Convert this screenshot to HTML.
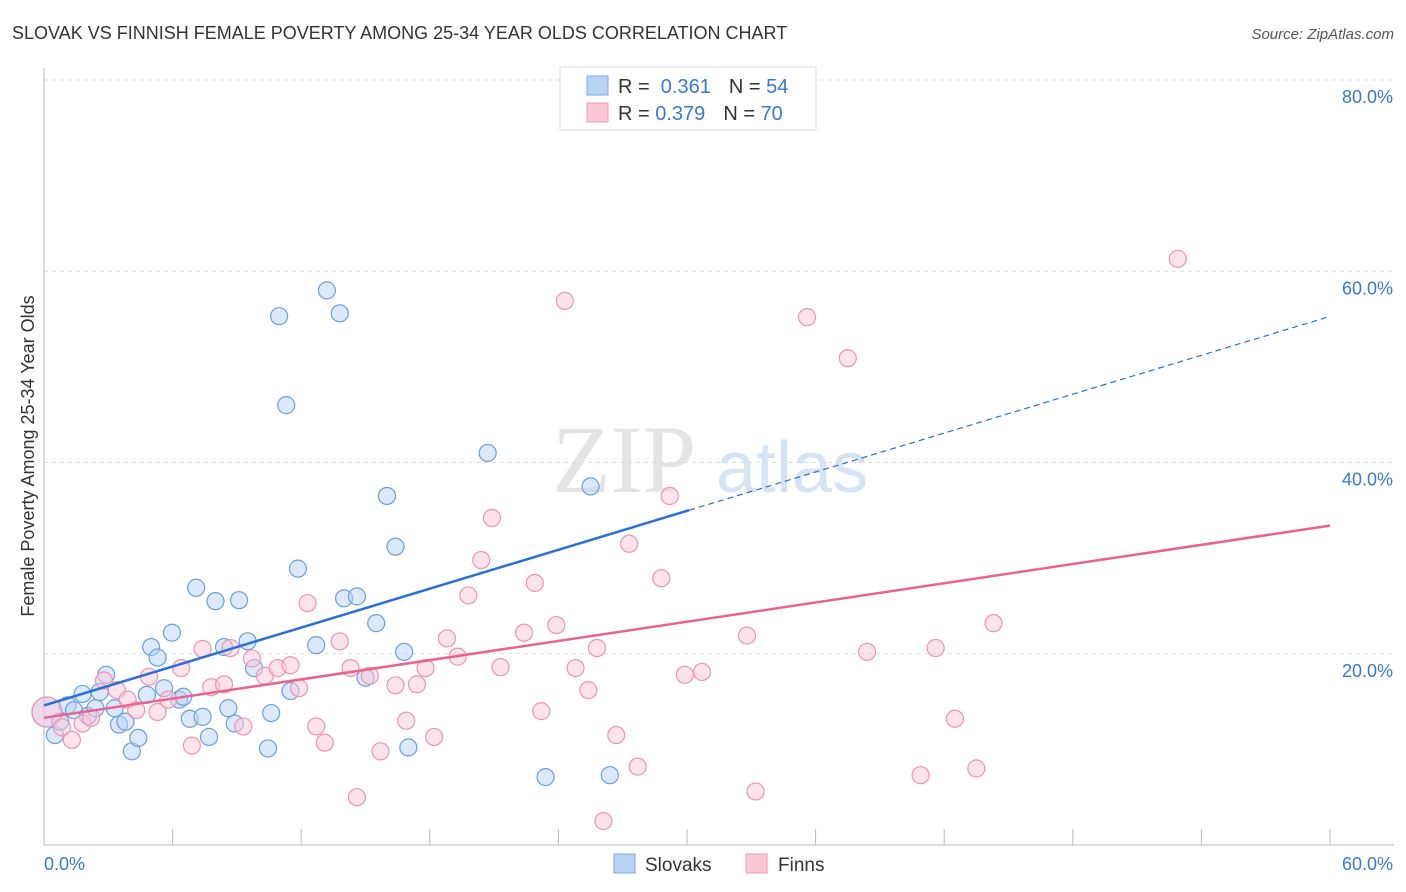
<!DOCTYPE html>
<html><head><meta charset="utf-8"><style>
body{margin:0;background:#fff;font-family:"Liberation Sans",sans-serif;}
svg{display:block}
</style></head><body>
<svg id="chart" width="1406" height="892" viewBox="0 0 1406 892" xmlns="http://www.w3.org/2000/svg">
<text x="12" y="39" font-size="18" fill="#333">SLOVAK VS FINNISH FEMALE POVERTY AMONG 25-34 YEAR OLDS CORRELATION CHART</text>
<text x="1394" y="39" font-size="15" fill="#555" text-anchor="end" font-style="italic">Source: ZipAtlas.com</text>
<g><text x="552" y="492" font-size="96" fill="#e4e4e4" font-family="Liberation Serif,serif">ZIP</text><text x="716" y="492" font-size="72" fill="#d6e3f3">atlas</text></g>
<g id="grid"></g>
<g id="axes"></g>
<g id="marks"></g>
<text transform="translate(34,456) rotate(-90)" font-size="18" fill="#333" text-anchor="middle">Female Poverty Among 25-34 Year Olds</text>
<g>
<rect x="560" y="67" width="256" height="63" fill="#fff" stroke="#ddd"/>
<rect x="587" y="76" width="21" height="19" fill="#b9d3f5" stroke="#7fa9e6"/>
<rect x="587" y="103" width="21" height="19" fill="#fbc8d7" stroke="#f09ab5"/>
<text x="618" y="93" font-size="20" fill="#333">R = <tspan fill="#3a78d0">&#160;0.361</tspan><tspan dx="18">N = </tspan><tspan fill="#3a78d0">54</tspan></text>
<text x="618" y="120" font-size="20" fill="#333">R = <tspan fill="#3a78d0">0.379</tspan><tspan dx="18">N = </tspan><tspan fill="#3a78d0">70</tspan></text>
</g>
<g>
<rect x="614" y="854" width="21" height="19" fill="#b9d3f5" stroke="#7fa9e6"/>
<text x="645" y="871" font-size="19" fill="#333">Slovaks</text>
<rect x="746" y="854" width="21" height="19" fill="#fbc8d7" stroke="#f09ab5"/>
<text x="778" y="871" font-size="19" fill="#333">Finns</text>
</g>
</svg>
<script>
const yTicks=[20,40,60,80];
const yTickLabels=["20.0%","40.0%","60.0%","80.0%"];
const xTicks=[0,6,12,18,24,30,36,42,48,54,60];
const slovakX=[0.14,0.51,0.75,1.1,1.4,1.8,2.05,2.4,2.6,2.9,3.3,3.5,3.8,4.1,4.4,4.8,5.0,5.3,5.6,5.97,6.3,6.5,6.8,7.1,7.4,7.7,8.0,8.4,8.6,8.9,9.1,9.5,9.8,10.45,10.6,10.97,11.3,11.5,11.85,12.7,13.2,13.8,14.0,14.6,15.0,15.5,16.0,16.4,16.8,17.0,20.7,23.4,25.5,26.4];
const slovakY=[13.9,11.5,12.9,14.6,14.1,15.8,13.5,14.3,16.0,17.8,14.3,12.6,12.9,9.8,11.2,15.7,20.7,19.6,16.4,22.2,15.2,15.5,13.2,26.9,13.4,11.3,25.5,20.7,14.3,12.7,25.6,21.3,18.5,10.1,13.8,55.3,46.0,16.1,28.9,20.9,58.0,55.6,25.8,26.0,17.5,23.2,36.5,31.2,20.2,10.2,41.0,7.1,37.5,7.3];
const finnX=[0.14,0.84,1.3,1.8,2.2,2.8,3.4,3.9,4.3,4.9,5.3,5.8,6.4,6.9,7.4,7.8,8.4,8.7,9.3,9.7,10.3,10.9,11.5,11.9,12.3,12.7,13.1,13.8,14.3,14.6,15.2,15.7,16.4,16.9,17.4,17.8,18.2,18.8,19.3,19.8,20.4,20.9,21.3,22.4,22.9,23.2,23.9,24.3,24.8,25.4,25.8,26.1,26.7,27.3,27.7,28.8,29.2,29.9,30.7,32.8,33.2,35.6,37.5,38.4,40.9,41.6,42.5,43.5,44.3,52.9];
const finnY=[13.9,12.3,11.0,12.7,13.3,17.2,16.2,15.2,14.1,17.6,13.9,15.2,18.5,10.4,20.5,16.5,16.8,20.6,12.4,19.5,17.7,18.5,18.8,16.4,25.3,12.4,10.7,21.3,18.5,5.0,17.7,9.8,16.7,13.0,16.8,18.5,11.3,21.6,19.7,26.1,29.8,34.2,18.6,22.2,27.4,14.0,23.0,56.9,18.5,16.2,20.6,2.5,11.5,31.5,8.2,27.9,36.5,17.8,18.1,21.9,5.6,55.2,50.9,20.2,7.3,20.6,13.2,8.0,23.2,61.3];
const slovakFit=[14.6,0.678];
const finnFit=[13.3,0.335];
const NS="http://www.w3.org/2000/svg";
const X0=44,X1=1330,Y0=845,Y80=80;
function sx(v){return X0+(X1-X0)*v/60;}
function sy(v){return Y0-(Y0-Y80)*v/80;}
function mk(tag,attrs,parent){const e=document.createElementNS(NS,tag);for(const k in attrs)e.setAttribute(k,attrs[k]);parent.appendChild(e);return e;}
const grid=document.getElementById('grid'),axes=document.getElementById('axes'),marks=document.getElementById('marks');
yTicks.forEach((t,i)=>{
 const l=mk('line',{x1:X0,x2:1394,y1:sy(t),y2:sy(t),stroke:'#dcdcdc','stroke-dasharray':'4,4'},grid);
 
 
 const tx=mk('text',{x:1393,y:sy(t)+23,'font-size':18,fill:'#3a78d0','text-anchor':'end'},axes);
 tx.textContent=yTickLabels[i];
 
 
});
const ya=mk('line',{x1:X0,x2:X0,y1:68,y2:Y0,stroke:'#bbb'},axes);


const xa=mk('line',{x1:X0,x2:1394,y1:Y0,y2:Y0,stroke:'#bbb'},axes);


xTicks.forEach(t=>{const k=mk('line',{x1:sx(t),x2:sx(t),y1:829,y2:Y0,stroke:'#bbb'},axes);
 
 });
const xl0=mk('text',{x:44,y:870,'font-size':18,fill:'#3a78d0'},axes);xl0.textContent='0.0%';


const xl1=mk('text',{x:1393,y:870,'font-size':18,fill:'#3a78d0','text-anchor':'end'},axes);xl1.textContent='60.0%';


function pts(xs,ys,fill,stroke,name){xs.forEach((v,i)=>{
 const r=(i===0)?15:8.5;
 const c=mk('circle',{cx:sx(v),cy:sy(ys[i]),r:r,fill:fill,'fill-opacity':0.5,stroke:stroke,'stroke-width':1.2},marks);
 
 });}
pts(slovakX,slovakY,'#b9d3f5','#6a9fe0','slovak-point');
pts(finnX,finnY,'#fbc8d7','#ef94b2','finn-point');
const bxe=30.1;
const b1=mk('line',{x1:sx(0),y1:sy(slovakFit[0]),x2:sx(bxe),y2:sy(slovakFit[0]+slovakFit[1]*bxe),stroke:'#2a6fd6','stroke-width':2.5},marks);


const b2=mk('line',{x1:sx(bxe),y1:sy(slovakFit[0]+slovakFit[1]*bxe),x2:sx(60),y2:sy(slovakFit[0]+slovakFit[1]*60),stroke:'#2a6fd6','stroke-width':1.2,'stroke-dasharray':'6,4'},marks);


const f1=mk('line',{x1:sx(0),y1:sy(finnFit[0]),x2:sx(60),y2:sy(finnFit[0]+finnFit[1]*60),stroke:'#e8648e','stroke-width':2.5},marks);


</script>
</body></html>
